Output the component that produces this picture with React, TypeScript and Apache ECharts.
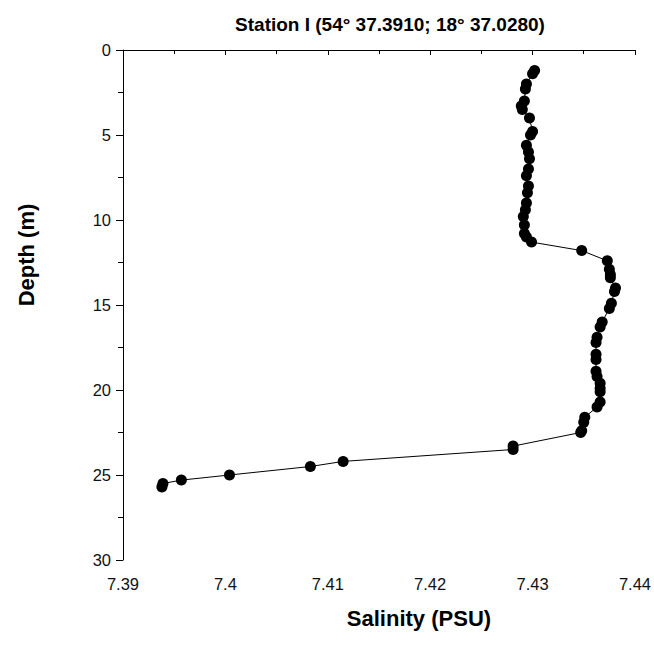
import React, { useEffect, useRef } from "react";
import * as echarts from "echarts";

const titleText = "Station I (54° 37.3910; 18° 37.0280)";
const xAxisName = "Salinity (PSU)";
const yAxisName = "Depth (m)";

const depth = [
  1.2, 1.4, 2.0, 2.3, 3.0, 3.3, 3.5, 4.0, 4.8, 5.0, 5.6, 6.0, 6.4, 7.0, 7.4, 8.0, 8.4, 9.0, 9.4, 9.8,
  10.3, 10.8, 11.0, 11.3, 11.8, 12.4, 12.9, 13.2, 13.4, 14.0, 14.2, 14.9, 15.2, 16.0, 16.3, 16.9,
  17.2, 17.9, 18.2, 18.9, 19.2, 19.6, 19.9, 20.1, 20.7, 21.0, 21.6, 21.9, 22.4, 22.5, 23.3, 23.5,
  24.2, 24.5, 25.0, 25.3, 25.5, 25.7,
];
const salinity = [
  7.4302, 7.43, 7.4294, 7.4293, 7.4292, 7.4289, 7.429, 7.4297, 7.43, 7.4298, 7.4294, 7.4296, 7.4297,
  7.4296, 7.4294, 7.4296, 7.4295, 7.4294, 7.4293, 7.4291, 7.4292, 7.4292, 7.4294, 7.4299, 7.4348,
  7.4373, 7.4375, 7.4376, 7.4376, 7.4381, 7.438, 7.4377, 7.4375, 7.4368, 7.4366, 7.4363, 7.4362,
  7.4362, 7.4362, 7.4362, 7.4363, 7.4366, 7.4366, 7.4366, 7.4366, 7.4363, 7.4351, 7.435, 7.4348,
  7.4347, 7.4281, 7.4281, 7.4115, 7.4083, 7.4004, 7.3957, 7.3939, 7.3938,
];

export default function App() {
  const ref = useRef<HTMLDivElement>(null);
  useEffect(() => {
    if (!ref.current) return;
    const chart = echarts.init(ref.current, null, { renderer: "svg" });
    const font = "'Liberation Sans', Arial, sans-serif";
    chart.setOption({
      animation: false,
      textStyle: { fontFamily: font },
      title: {
        text: titleText,
        left: 385,
        top: 10,
        textAlign: "center",
        textStyle: { fontFamily: font, fontSize: 19, fontWeight: "bold", color: "#000" },
      },
      grid: { left: 123, top: 50, right: 18, bottom: 85, containLabel: false },
      xAxis: {
        type: "value",
        min: 7.39,
        max: 7.44,
        interval: 0.01,
        name: xAxisName,
        nameLocation: "middle",
        nameGap: 47,
        nameTextStyle: {
          fontFamily: font,
          fontSize: 22,
          fontWeight: "bold",
          color: "#000",
          padding: [0, 0, 0, 80],
        },
        axisLine: { show: true, lineStyle: { color: "#000", width: 1 } },
        axisTick: { show: true, inside: false, length: 5, lineStyle: { color: "#000" } },
        minorTick: { show: true, splitNumber: 2, length: 4, lineStyle: { color: "#000" } },
        splitLine: { show: false },
        axisLabel: {
          fontFamily: font,
          fontSize: 16.5,
          color: "#111",
          margin: 15,
          formatter: (v: number) => String(parseFloat(v.toFixed(2))),
        },
      },
      yAxis: {
        type: "value",
        inverse: true,
        min: 0,
        max: 30,
        interval: 5,
        name: yAxisName,
        nameLocation: "middle",
        nameGap: 86,
        nameRotate: 90,
        nameTextStyle: {
          fontFamily: font,
          fontSize: 22,
          fontWeight: "bold",
          color: "#000",
          padding: [0, 0, 0, 100],
        },
        axisLine: { show: true, lineStyle: { color: "#000", width: 1 } },
        axisTick: { show: true, inside: false, length: 7, lineStyle: { color: "#000" } },
        minorTick: { show: true, splitNumber: 2, length: 5, lineStyle: { color: "#000" } },
        splitLine: { show: false },
        axisLabel: { fontFamily: font, fontSize: 16.5, color: "#111", margin: 12 },
      },
      series: [
        {
          type: "line",
          data: depth.map((d, i) => [salinity[i], d]),
          symbol: "circle",
          symbolSize: 11,
          showAllSymbol: true,
          itemStyle: { color: "#000" },
          lineStyle: { color: "#000", width: 1 },
        },
      ],
    });
    return () => chart.dispose();
  }, []);
  return (
    <div
      ref={ref}
      style={{ position: "absolute", left: 0, top: 0, width: 654, height: 645 }}
    />
  );
}
